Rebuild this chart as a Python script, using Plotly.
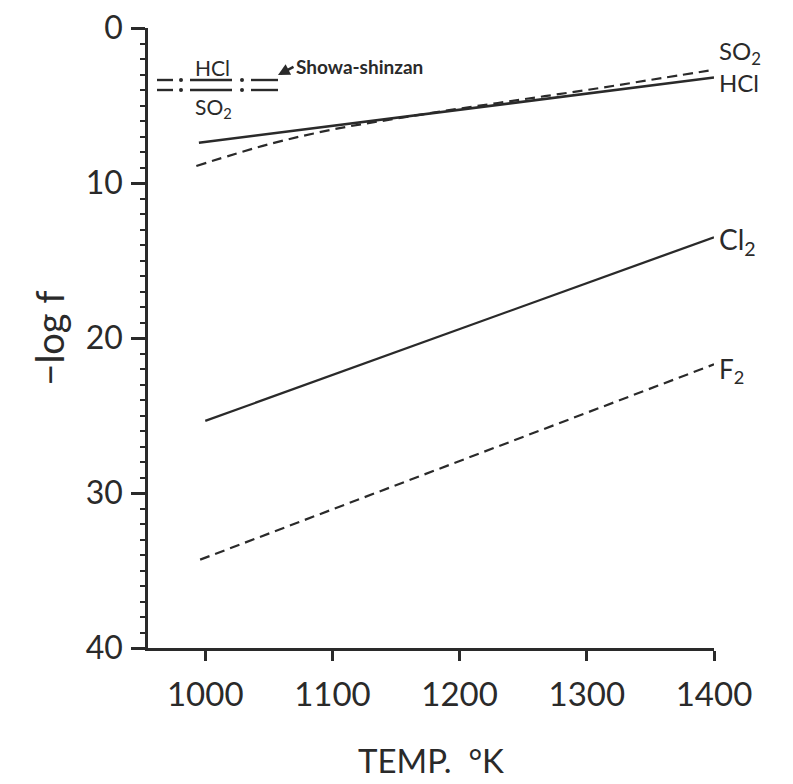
import plotly.graph_objects as go

# ---- data ----
temp_hcl = [995, 1400]
hcl = [7.4, 3.2]

temp_so2 = [993, 1050, 1100, 1150, 1200, 1250, 1300, 1350, 1400]
so2 = [8.9, 7.5, 6.55, 5.85, 5.2, 4.6, 4.0, 3.35, 2.7]

temp_cl2 = [1000, 1400]
cl2 = [25.35, 13.5]

temp_f2 = [996, 1400]
f2 = [34.3, 21.7]

x_ticks = [1000, 1100, 1200, 1300, 1400]
y_ticks = [0, 10, 20, 30, 40]

INK = "#2a2a2a"
FONT = "Lato"

W, H = 793, 784
OFF = 8  # page body margin
L, T, R, B = 148 - OFF, 28 - OFF, 714 - OFF, 648 - OFF


def px(x):  # reference page pixel -> paper
    return (x - OFF - L) / (R - L)


def py(y):
    return 1 - (y - OFF - T) / (B - T)


fig = go.Figure()
fig.add_trace(go.Scatter(x=temp_hcl, y=hcl, mode="lines",
                         line=dict(color=INK, width=2.5), name="HCl"))
fig.add_trace(go.Scatter(x=temp_so2, y=so2, mode="lines", line_shape="spline",
                         line=dict(color=INK, width=2.2, dash="10px,6px"), name="SO2"))
fig.add_trace(go.Scatter(x=temp_cl2, y=cl2, mode="lines",
                         line=dict(color=INK, width=2.3), name="Cl2"))
fig.add_trace(go.Scatter(x=temp_f2, y=f2, mode="lines",
                         line=dict(color=INK, width=2.2, dash="10px,6px"), name="F2"))

# right-hand labels
lab_font = dict(family=FONT, size=24, color=INK)
fig.add_annotation(x=1400, y=so2[-1], xref="x", yref="y", text="SO<sub>2</sub>",
                   showarrow=False, xanchor="left", yanchor="middle",
                   xshift=3, yshift=17, font=lab_font)
fig.add_annotation(x=1400, y=hcl[-1], xref="x", yref="y", text="HCl",
                   showarrow=False, xanchor="left", yanchor="middle",
                   xshift=3, yshift=-5, font=lab_font)
fig.add_annotation(x=1400, y=cl2[-1], xref="x", yref="y", text="Cl<sub>2</sub>",
                   showarrow=False, xanchor="left", yanchor="middle",
                   xshift=3, yshift=-4, font=dict(family=FONT, size=28, color=INK))
fig.add_annotation(x=1400, y=f2[-1], xref="x", yref="y", text="F<sub>2</sub>",
                   showarrow=False, xanchor="left", yanchor="middle",
                   xshift=3, yshift=-6, font=dict(family=FONT, size=26, color=INK))

# Showa-shinzan inset (decorative key)
y1, y2 = 80, 90
segs = [(157, 173), (190, 232), (251, 278)]
for xa, xb in segs:
    for yy in (y1, y2):
        fig.add_shape(type="line", xref="paper", yref="paper",
                      x0=px(xa), x1=px(xb), y0=py(yy), y1=py(yy),
                      line=dict(color=INK, width=2.4))
for xc in (181, 242):
    for yy in (y1, y2):
        fig.add_shape(type="circle", xref="paper", yref="paper",
                      x0=px(xc - 2), x1=px(xc + 2), y0=py(yy - 2), y1=py(yy + 2),
                      fillcolor=INK, line=dict(width=0))
small = dict(family=FONT, size=21, color=INK)
fig.add_annotation(x=px(212), y=py(68), xref="paper", yref="paper", text="HCl",
                   showarrow=False, xanchor="center", yanchor="middle", font=small)
fig.add_annotation(x=px(213), y=py(108), xref="paper", yref="paper", text="SO<sub>2</sub>",
                   showarrow=False, xanchor="center", yanchor="middle", font=small)
fig.add_annotation(x=px(278), y=py(75), xref="paper", yref="paper", text="",
                   showarrow=True, arrowhead=2, arrowsize=0.9, arrowwidth=2.6,
                   arrowcolor=INK, ax=17, ay=-9, standoff=0)
fig.add_annotation(x=px(294), y=py(67), xref="paper", yref="paper",
                   text="<b>Showa-shinzan</b>", showarrow=False, xanchor="left",
                   yanchor="middle", font=dict(family=FONT, size=19, color=INK))

fig.update_xaxes(range=[955, 1400], tickvals=x_ticks, ticktext=[str(v) for v in x_ticks],
                 showline=True, linecolor=INK, linewidth=2.5, ticks="outside",
                 ticklen=10, tickwidth=2.5, tickcolor=INK, showgrid=False, zeroline=False,
                 tickfont=dict(family=FONT, size=33, color=INK), ticklabelstandoff=6,
                 ticklabeloverflow="allow", automargin=False,
                 title=dict(text="TEMP.\u00a0\u00a0°K",
                            font=dict(family=FONT, size=33, color=INK), standoff=38))
fig.update_yaxes(range=[40, 0], tickvals=y_ticks, ticktext=[str(v) for v in y_ticks],
                 showline=True, linecolor=INK, linewidth=2.5, ticks="outside",
                 ticklen=14, tickwidth=2.5, tickcolor=INK, showgrid=False, zeroline=False,
                 minor=dict(dtick=1, ticks="outside", ticklen=5, tickwidth=2, tickcolor=INK,
                            showgrid=False),
                 tickfont=dict(family=FONT, size=32, color=INK), ticklabelstandoff=2,
                 ticklabeloverflow="allow", automargin=False,
                 title=dict(text="−log f", font=dict(family=FONT, size=38, color=INK),
                            standoff=10))

fig.update_layout(width=W, height=H, margin=dict(l=L, r=W - R, t=T, b=H - B),
                  paper_bgcolor="white", plot_bgcolor="white", showlegend=False)

fig.write_html("out.html")
